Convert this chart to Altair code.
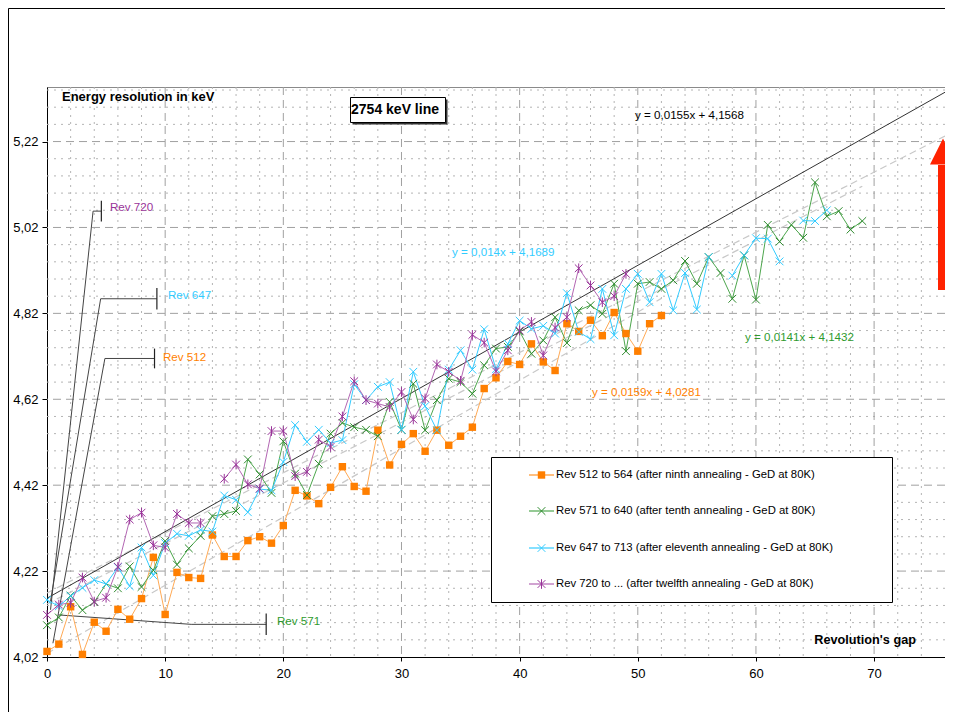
import altair as alt
import pandas as pd

# ---------------- data ----------------
orange_y = [4.033, 4.050, 4.137, 4.026, 4.101, 4.080, 4.131, 4.108, 4.156, 4.252,
            4.119, 4.217, 4.205, 4.203, 4.304, 4.254, 4.254, 4.291, 4.300, 4.285,
            4.326, 4.408, 4.395, 4.377, 4.415, 4.463, 4.417, 4.406, 4.548, 4.467,
            4.515, 4.540, 4.499, 4.548, 4.513, 4.534, 4.555, 4.645, 4.670, 4.708,
            4.701, 4.749, 4.707, 4.687, 4.796, 4.778, 4.804, 4.768, 4.822, 4.773,
            4.732, 4.796, 4.815]

green_y = [4.094, 4.112, 4.163, 4.129, 4.148, 4.190, 4.180, 4.231, 4.183, 4.222,
           4.290, 4.235, 4.273, 4.302, 4.348, 4.353, 4.360, 4.480, 4.445, 4.402,
           4.522, 4.447, 4.397, 4.470, 4.540, 4.565, 4.555, 4.549, 4.534, 4.614,
           4.549, 4.656, 4.548, 4.618, 4.668, 4.660, 4.633, 4.699, 4.738, 4.742,
           4.778, 4.726, 4.757, 4.811, 4.751, 4.827, 4.839, 4.819, 4.889, 4.732,
           4.889, 4.893, 4.877, 4.897, 4.942, 4.889, 4.951, 4.914, 4.854, 4.955,
           4.852, 5.026, 4.987, 5.026, 4.996, 5.125, 5.046, 5.058, 5.015, 5.035]

cyan_y = [4.153, 4.138, 4.162, 4.181, 4.199, 4.190, 4.229, 4.185, 4.275, 4.210,
          4.285, 4.307, 4.302, 4.316, 4.312, 4.396, 4.386, 4.357, 4.411, 4.408,
          4.474, 4.560, 4.521, 4.549, 4.518, 4.525, 4.655, 4.618, 4.649, 4.660,
          4.549, 4.684, 4.604, 4.548, 4.689, 4.734, 4.689, 4.783, 4.690, 4.749,
          4.803, 4.784, 4.791, 4.773, 4.867, 4.777, 4.760, 4.877, 4.769, 4.877,
          4.912, 4.846, 4.912, 4.827, 4.914, 4.829, 4.951, None, 4.908, 4.955,
          4.995, 4.994, 4.941, None, 5.036, 5.035, 5.060]

purple_y = [4.118, 4.142, 4.146, 4.205, 4.149, 4.158, 4.230, 4.340, 4.356, 4.280,
            4.275, 4.353, 4.332, 4.332, None, 4.435, 4.468, 4.422, 4.412, 4.546,
            4.546, 4.441, 4.451, 4.526, 4.509, 4.580, 4.662, 4.618, 4.610, 4.602,
            4.637, 4.573, 4.622, 4.701, 4.684, 4.663, 4.770, 4.752, 4.685, 4.734,
            4.780, 4.800, 4.722, 4.787, 4.811, 4.925, 4.885, 4.846, 4.860, 4.912]

series_names = ["Rev 512 to 564 (after ninth annealing - GeD at 80K)",
                "Rev 571 to 640 (after tenth annealing - GeD at 80K)",
                "Rev 647 to 713 (after eleventh annealing - GeD at 80K)",
                "Rev 720 to ... (after twelfth annealing - GeD at 80K)"]

# trendline coefficients (slope, intercept) and x extent as printed on the chart
trend_slope = [0.0159, 0.0141, 0.014, 0.0155]
trend_icpt = [4.0281, 4.1432, 4.1689, 4.1568]
trend_xmax = [52, 69, 76, 76]
trend_labels = ["y = 0,0159x + 4,0281", "y = 0,0141x + 4,1432",
                "y = 0,014x + 4,1689", "y = 0,0155x + 4,1568"]

x_ticks = [0, 10, 20, 30, 40, 50, 60, 70]
y_ticks = [4.02, 4.22, 4.42, 4.62, 4.82, 5.02, 5.22]

# callout leaders: (x_start, y_start) -> (x_corner, y_corner) -> (x_end, y_corner)
callout_text = ["Rev 720", "Rev 647", "Rev 512", "Rev 571"]
callout_x0 = [0.3, 0.3, 0.5, 0.95]
callout_y0 = [4.13, 4.15, 4.052, 4.118]
callout_xc = [3.9, 4.54, 4.9, 12.2]
callout_yc = [5.058, 4.854, 4.715, 4.096]
callout_xe = [4.6, 9.3, 9.1, 18.55]
callout_tick = [0.024, 0.025, 0.023, 0.025]

# ---------------- styling ----------------
FONT = "Liberation Sans"
mk_col = ["#ff7f00", "#2e8b2e", "#33ccff", "#993399"]
ln_col = ["#ffaa55", "#4da64d", "#33ccff", "#b366b3"]
XSHAPE = "M-1,-1L1,1M-1,1L1,-1"
ASTER = "M-1,-1L1,1M-1,1L1,-1M0,-1.25L0,1.25"
shapes = ["square", XSHAPE, XSHAPE, ASTER]

XMAX, YMIN, YMAX = 76, 4.02, 5.347
W, H = 898, 570

xscale = alt.Scale(domain=[0, XMAX], nice=False, zero=False)
yscale = alt.Scale(domain=[YMIN, YMAX], nice=False, zero=False)
xaxis = alt.Axis(values=x_ticks, title=None, grid=False, labelFont=FONT, labelFontSize=13,
                 labelColor="black", domainColor="black", tickColor="black", tickSize=4,
                 labelPadding=6, labelFlush=False)
yaxis = alt.Axis(values=y_ticks, title=None, grid=False, labelFont=FONT, labelFontSize=13,
                 labelColor="black", domainColor="black", tickColor="black", tickSize=5,
                 labelPadding=4,
                 labelExpr="replace(format(datum.value, '.2f'), '.', ',')")


def X(f="x"):
    return alt.X(f + ":Q", scale=xscale, axis=xaxis)


def Y(f="y"):
    return alt.Y(f + ":Q", scale=yscale, axis=yaxis)


layers = []

# grid
minor_x = [v for v in range(2, XMAX, 2) if v % 10 != 0]
major_x = [v for v in range(10, XMAX, 10)]
minor_y = [round(YMIN + 0.04 * k, 2) for k in range(1, 34)]
minor_y = [v for v in minor_y if round((v - 4.02) / 0.2, 3) % 1 != 0]
major_y = y_ticks[1:]
layers.append(alt.Chart(pd.DataFrame({"x": minor_x})).mark_rule(
    color="#b4b4b4", strokeWidth=1, strokeDash=[2, 5]).encode(x=X()))
layers.append(alt.Chart(pd.DataFrame({"y": minor_y})).mark_rule(
    color="#b4b4b4", strokeWidth=1, strokeDash=[2, 5]).encode(y=Y()))
layers.append(alt.Chart(pd.DataFrame({"x": major_x})).mark_rule(
    color="#a0a0a0", strokeWidth=1, strokeDash=[8, 5]).encode(x=X()))
layers.append(alt.Chart(pd.DataFrame({"y": major_y})).mark_rule(
    color="#a0a0a0", strokeWidth=1, strokeDash=[8, 5]).encode(y=Y()))

# trendlines
for i in range(3):
    df = pd.DataFrame({"x": [0], "y": [trend_icpt[i]], "x2": [trend_xmax[i]],
                       "y2": [trend_icpt[i] + trend_slope[i] * trend_xmax[i]]})
    layers.append(alt.Chart(df).mark_rule(color="#c8c8c8", strokeWidth=1.2, strokeDash=[7, 4]).encode(
        x=X(), y=Y(), x2="x2:Q", y2="y2:Q"))
df = pd.DataFrame({"x": [0], "y": [trend_icpt[3]], "x2": [trend_xmax[3]],
                   "y2": [trend_icpt[3] + trend_slope[3] * trend_xmax[3]]})
layers.append(alt.Chart(df).mark_rule(color="#333333", strokeWidth=1).encode(
    x=X(), y=Y(), x2="x2:Q", y2="y2:Q"))

# callout leaders
for i in range(4):
    seg = pd.DataFrame({"x": [callout_x0[i], callout_xc[i]],
                        "y": [callout_y0[i], callout_yc[i]],
                        "x2": [callout_xc[i], callout_xe[i]],
                        "y2": [callout_yc[i], callout_yc[i]]})
    layers.append(alt.Chart(seg).mark_rule(color="#444444", strokeWidth=1).encode(
        x=X(), y=Y(), x2="x2:Q", y2="y2:Q"))
    tk = pd.DataFrame({"x": [callout_xe[i]], "y": [callout_yc[i] - callout_tick[i]],
                       "y2": [callout_yc[i] + callout_tick[i]]})
    layers.append(alt.Chart(tk).mark_rule(color="#222222", strokeWidth=1.2).encode(
        x=X(), y=Y(), y2="y2:Q"))


def series_df(ys):
    rows, seg = [], 0
    for i, v in enumerate(ys):
        if v is None:
            seg += 1
            continue
        rows.append({"x": i, "y": v, "seg": seg})
    return pd.DataFrame(rows)


all_y = [orange_y, green_y, cyan_y, purple_y]
for i in range(4):
    df = series_df(all_y[i])
    base = alt.Chart(df)
    layers.append(base.mark_line(color=ln_col[i], strokeWidth=1).encode(
        x=X(), y=Y(), detail="seg:N", order="x:Q"))
for i in range(4):
    df = series_df(all_y[i])
    base = alt.Chart(df)
    if i == 0:
        layers.append(base.mark_point(shape="square", filled=True, size=55, color=mk_col[i],
                                      opacity=1).encode(x=X(), y=Y()))
    else:
        layers.append(base.mark_point(shape=shapes[i], filled=False, size=60, color=mk_col[i],
                                      strokeWidth=1, opacity=1).encode(x=X(), y=Y()))

# ---------------- pixel annotations (relative to plot origin) ----------------
def text_at(txt, px, py, color="black", size=12, bold=False, align="left"):
    return alt.Chart(pd.DataFrame({"t": [txt]})).mark_text(
        font=FONT, fontSize=size, fontWeight="bold" if bold else "normal",
        color=color, align=align, baseline="middle").encode(
        x=alt.value(px), y=alt.value(py), text="t:N")


def rect_at(x1, y1, x2, y2, fill, stroke=None, sw=0):
    kw = dict(fill=fill, strokeWidth=sw)
    if stroke:
        kw["stroke"] = stroke
    return alt.Chart(pd.DataFrame({"a": [0]})).mark_rect(**kw).encode(
        x=alt.value(x1), x2=alt.value(x2), y=alt.value(y1), y2=alt.value(y2))


def rule_at(x1, y1, x2, y2, color="black", sw=1):
    return alt.Chart(pd.DataFrame({"a": [0]})).mark_rule(color=color, strokeWidth=sw).encode(
        x=alt.value(x1), x2=alt.value(x2), y=alt.value(y1), y2=alt.value(y2))


# axis titles inside plot
layers.append(text_at("Energy resolution in keV", 15, 10, bold=True, size=13))
layers.append(text_at("Revolution's gap", 869, 553, bold=True, size=12.7, align="right"))

# chart title box
layers.append(rect_at(305.5, 12.5, 400.5, 37.5, "#333333"))
layers.append(rect_at(303.5, 10.5, 398.5, 35.5, "white", "black", 1))
layers.append(text_at("2754 keV line", 348, 23, bold=True, size=14, align="center"))

# trendline equations
eq_pos = [(545, 306), (698, 251), (405, 166), (588, 29)]
eq_col = ["#ff7f00", "#2e9a2e", "#33ccff", "black"]
for i in range(4):
    layers.append(text_at(trend_labels[i], eq_pos[i][0], eq_pos[i][1], color=eq_col[i], size=11.6))

# callout labels
call_pos = [(63, 121), (121, 209), (116, 271), (230, 535)]
call_col = ["#993399", "#33ccff", "#ff7f00", "#2e9a2e"]
for i in range(4):
    layers.append(text_at(callout_text[i], call_pos[i][0], call_pos[i][1], color=call_col[i], size=11.6))

# legend box
layers.append(rect_at(444.5, 370.5, 845.5, 515.5, "white", "black", 1))
leg_rows = [388, 424, 461, 497]
for i in range(4):
    ry = leg_rows[i]
    layers.append(rule_at(482, ry, 507, ry, color=ln_col[i], sw=1.5 if i == 0 else 1.2))
    if i == 0:
        layers.append(alt.Chart(pd.DataFrame({"a": [0]})).mark_point(
            shape="square", filled=True, size=55, color=mk_col[i], opacity=1).encode(
            x=alt.value(494.5), y=alt.value(ry)))
    else:
        layers.append(alt.Chart(pd.DataFrame({"a": [0]})).mark_point(
            shape=shapes[i], filled=False, size=60, color=mk_col[i], strokeWidth=1, opacity=1).encode(
            x=alt.value(494.5), y=alt.value(ry)))
    layers.append(text_at(series_names[i], 509, ry, size=11.3))

# outer frame
layers.append(rule_at(-38.5, -78.5, W + 20, -78.5, color="black", sw=1))
layers.append(rule_at(-38.5, -78.5, -38.5, H + 60, color="black", sw=1))

# red arrow
layers.append(rect_at(891, 78, 901, 203, "#ff2200"))
layers.append(alt.Chart(pd.DataFrame({"a": [0]})).mark_point(
    shape="M0,-1L1,1L-1,1Z", filled=True, size=676, color="#ff2200", opacity=1, strokeWidth=0).encode(
    x=alt.value(896), y=alt.value(64.5)))

chart = alt.layer(*layers).properties(
    width=W, height=H,
    autosize=alt.AutoSizeParams(type="none"),
    padding={"left": 39, "top": 79, "right": 0, "bottom": 55},
    background="white",
).configure_view(stroke="#8a8a8a", strokeWidth=1)

chart.save("out.html", embed_options={"renderer": "svg", "actions": False})
